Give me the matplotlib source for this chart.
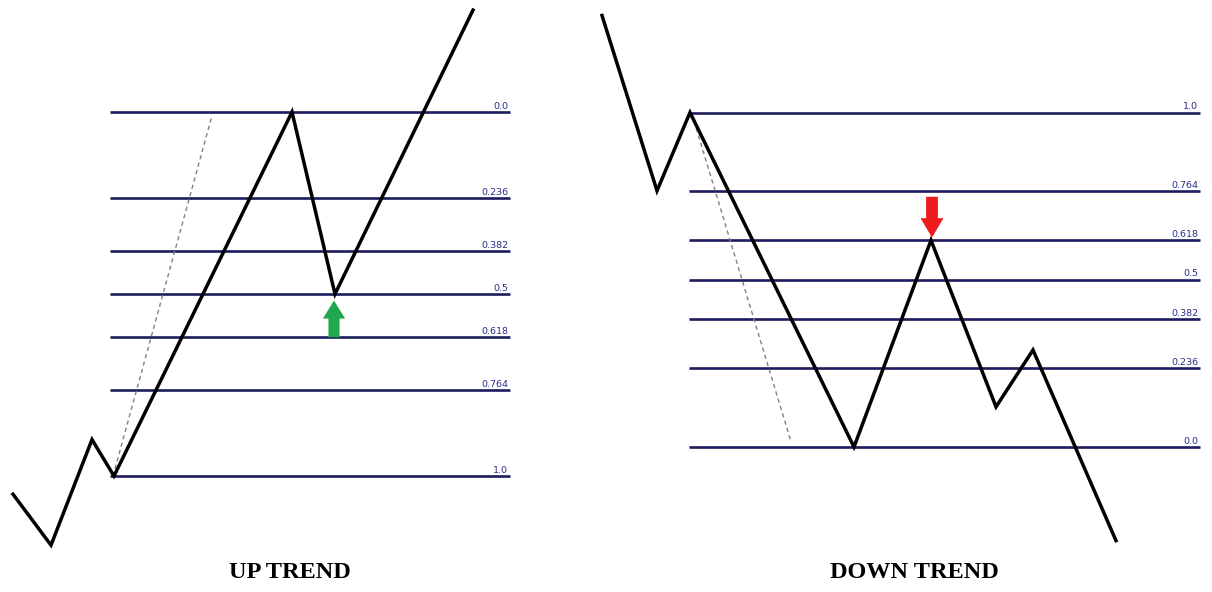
import matplotlib.pyplot as plt

# fibonacci levels drawn on both panels
levels = [0.0, 0.236, 0.382, 0.5, 0.618, 0.764, 1.0]
level_labels = ["0.0", "0.236", "0.382", "0.5", "0.618", "0.764", "1.0"]

# up trend: swing low = 0, swing high = 1 (price units), x = bar index
up_x = [13, 51, 92, 114, 292, 335, 473]
up_price = [-0.05, -0.19, 0.10, 0.0, 1.0, 0.5, 1.28]
up_guide_x = [115, 212]
up_guide_price = [0.02, 0.99]
up_entry_x = 334
up_entry_price = 0.5

# down trend: swing low = 0, swing high = 1
down_x = [2, 57, 90, 254, 331, 396, 433, 516]
down_price = [1.29, 0.766, 1.0, 0.0, 0.618, 0.12, 0.29, -0.28]
down_guide_x = [94, 191]
down_guide_price = [0.975, 0.016]
down_entry_x = 332
down_entry_price = 0.618

navy = "#1c1c5e"
W, H = 1212, 592
fig = plt.figure(figsize=(W / 100, H / 100), dpi=100)
fig.patch.set_facecolor("white")


def panel(rect, xlim, ylim, px, pp, gx, gp, level_y, line_x0, line_x1):
    ax = fig.add_axes(rect)
    ax.set_xlim(*xlim)
    ax.set_ylim(*ylim)
    ax.axis("off")
    for y, lab in zip(level_y, level_labels):
        ax.plot([line_x0, line_x1], [y, y], color=navy, lw=1.9, solid_capstyle="butt")
        ax.annotate(lab, (line_x1 - 2, y), xytext=(0, 1), textcoords="offset points",
                    ha="right", va="bottom", fontsize=6.8, color="#2b2b8c")
    ax.plot(gx, gp, color="#808080", lw=1.0, ls=(0, (3, 2.5)))
    ax.plot(px, pp, color="black", lw=2.5, solid_joinstyle="miter")
    return ax


# left panel: price 0 at y=476px, price 1 at y=112px
s = 364.0
ax1 = panel([0, 0, 600 / W, 1], (0, 600), ((476 - 592) / s, 476 / s),
            up_x, up_price, up_guide_x, up_guide_price,
            [1 - l for l in levels], 110, 510)
ax1.annotate("", xy=(up_entry_x, up_entry_price - 0.018),
             xytext=(up_entry_x, up_entry_price - 0.118 - 0.001),
             arrowprops=dict(arrowstyle="simple,head_width=16,head_length=13,tail_width=8",
                             mutation_scale=1, color="#1fa84c", shrinkA=0, shrinkB=0, lw=0))
ax1.text(290, (476 - 572) / s, "UP TREND", ha="center", va="center",
         fontsize=17.5, fontweight="bold", family="Liberation Serif")

# right panel: price 0 at y=447px, price 1 at y=112.5px
s2 = 334.5
ax2 = panel([600 / W, 0, 612 / W, 1], (0, 612), ((447 - 592) / s2, 447 / s2),
            down_x, down_price, down_guide_x, down_guide_price,
            levels, 89, 600)
ax2.annotate("", xy=(down_entry_x, down_entry_price + 0.008),
             xytext=(down_entry_x, down_entry_price + 0.13),
             arrowprops=dict(arrowstyle="simple,head_width=16.5,head_length=14,tail_width=8.5",
                             mutation_scale=1, color="#ee1c1c", shrinkA=0, shrinkB=0, lw=0))
ax2.text(314, (447 - 572) / s2, "DOWN TREND", ha="center", va="center",
         fontsize=17.5, fontweight="bold", family="Liberation Serif")

fig.savefig("out.png", dpi=100, facecolor="white")
